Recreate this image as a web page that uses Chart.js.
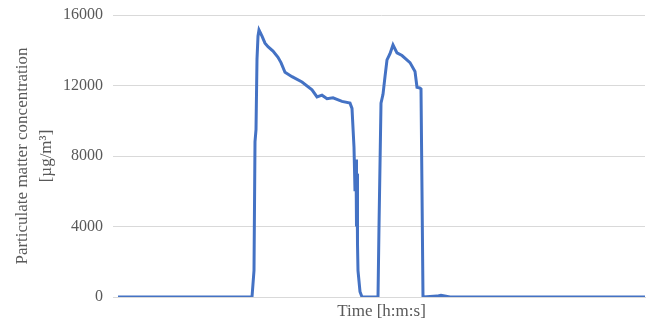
<!DOCTYPE html>
<html>
<head>
<meta charset="utf-8">
<script src="https://cdn.jsdelivr.net/npm/chart.js@4/dist/chart.umd.min.js"></script>
<style>
html,body{margin:0;padding:0;background:#fff;}
#wrap{width:650px;height:322px;position:relative;}
</style>
</head>
<body>
<div id="wrap"><canvas id="c" width="650" height="322"></canvas></div>
<script>
// time index (samples) and concentration values
const timeIdx = [0,134,136,137,138,139,140,141,144,147,150,155,160,163,167,174,184,194,199,204,209,215,224,232,234,236,237,238,238.5,239,239.5,240,242,244,260,261,263,265,267,269,272,275,279,284,292,297,299,302,303,304,305,319,323,328,332,527];
const concentration = [0,0,1500,8800,9500,13500,14800,15150,14800,14400,14200,13950,13600,13300,12750,12500,12200,11750,11350,11450,11250,11300,11100,11000,10700,8500,6000,7800,4000,7000,3000,1500,300,0,0,4000,11000,11500,12500,13450,13800,14300,13850,13700,13300,12800,11900,11850,11800,6000,0,50,100,50,0,0];
const yTicks = [0,4000,8000,12000,16000];

const points = timeIdx.map((t,i)=>({x:t,y:concentration[i]}));
const serif = "'Liberation Serif','Times New Roman',serif";

new Chart(document.getElementById('c'), {
  type: 'line',
  data: { datasets: [{
    data: points,
    borderColor: '#4472C4',
    borderWidth: 3,
    pointRadius: 0,
    tension: 0,
    fill: false
  }]},
  options: {
    responsive: false,
    animation: false,
    layout: { padding: { top: 15, right: 5, left: 0, bottom: 0 } },
    plugins: { legend: { display: false }, tooltip: { enabled: false } },
    scales: {
      x: {
        type: 'linear', min: 0, max: 527,
        ticks: { display: false },
        grid: { display: false, drawTicks: false },
        border: { display: true, color: '#d9d9d9' },
        title: { display: true, text: 'Time [h:m:s]', color: '#595959',
                 font: { family: serif, size: 17 }, padding: { top: 4, bottom: 0 } },
        afterFit: (s) => { s.height = 25; s.paddingLeft = 0; s.paddingRight = 0; }
      },
      y: {
        min: 0, max: 16000,
        afterBuildTicks: (s) => { s.ticks = yTicks.map(v=>({value:v})); },
        ticks: { color: '#595959', font: { family: serif, size: 16 }, padding: 10,
                 callback: (v) => String(v) },
        grid: { color: '#d9d9d9', tickLength: 5, tickColor: '#d9d9d9' },
        border: { display: false },
        title: { display: true, text: ['Particulate matter concentration','[µg/m³]'],
                 color: '#595959', font: { family: serif, size: 17, lineHeight: 1.4 },
                 padding: { top: 11, bottom: 0 } },
        afterFit: (s) => { s.width = 118; s.paddingTop = 0; s.paddingBottom = 0; }
      }
    }
  }
});
</script>
</body>
</html>
